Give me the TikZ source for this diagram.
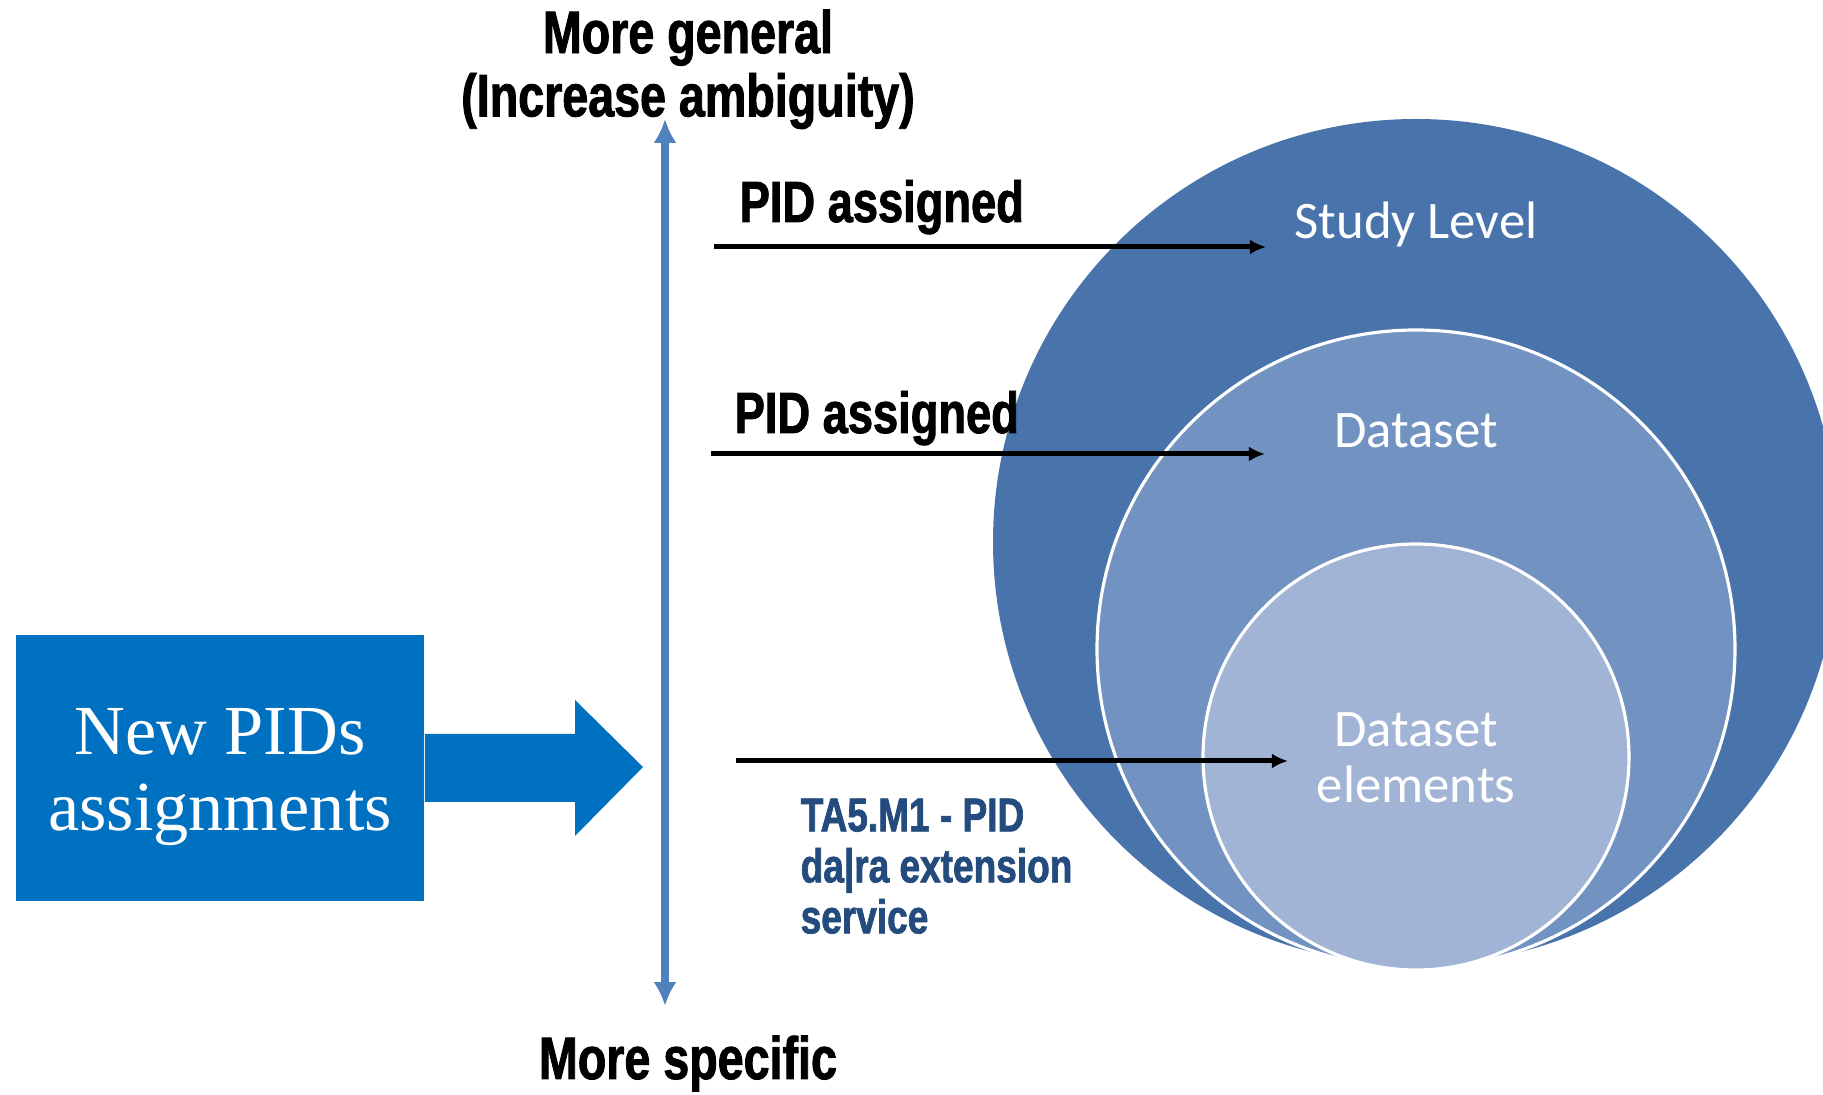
\documentclass[tikz,border=0pt]{standalone}
\usepackage{fontspec}
\setmainfont{Liberation Serif}
\newfontfamily\headfont{Liberation Sans Bold}[FakeStretch=0.78,FakeBold=1.5]
\newfontfamily\levelfont{Carlito}
\usetikzlibrary{arrows.meta}
\definecolor{boxblue}{HTML}{0070C0}
\definecolor{axisblue}{HTML}{4F81BD}
\definecolor{studyblue}{HTML}{4874AB}
\definecolor{setblue}{HTML}{7293C2}
\definecolor{elemblue}{HTML}{A2B4D5}
\definecolor{taskblue}{HTML}{234B7E}
\tikzset{
  heading/.style={font=\headfont\fontsize{17}{18}\selectfont, align=center, inner sep=0pt},
  pidtext/.style={font=\headfont\fontsize{16.5}{18}\selectfont, inner sep=0pt},
  tasktext/.style={font=\headfont\fontsize{13.5}{14.5}\selectfont, text=taskblue, align=left, inner sep=0pt},
  leveltext/.style={font=\levelfont\fontsize{15}{16}\selectfont, text=white, align=center, inner sep=0pt},
  pidarrow/.style={-{Latex[length=4.6pt,width=4.3pt]}, line width=1.42pt},
}
\begin{document}
\begin{tikzpicture}[x=0.01cm,y=-0.01cm]
\useasboundingbox (0,0) rectangle (1823,1095);
\clip (0,0) rectangle (1823,1095);
% nested levels
\fill[studyblue] (1416,542) circle (423);
\filldraw[fill=setblue,draw=white,line width=0.9pt] (1416,649) circle (319);
\filldraw[fill=elemblue,draw=white,line width=0.9pt] (1416,757) circle (213);
\node[leveltext] (study) at (1416,224) {Study Level};
\node[leveltext] (dataset) at (1416,431) {Dataset};
\node[leveltext] (elements) at (1416,758) {Dataset\\elements};
% axis
\coordinate (axtop) at (665,119);
\coordinate (axbottom) at (665,1006);
\draw[{Latex[length=6.8pt,width=6.6pt]}-{Latex[length=6.8pt,width=6.6pt]},axisblue,line width=2pt] (axbottom) -- (axtop);
\node[heading,anchor=north] (general) at (688,9) {More general\\(Increase ambiguity)};
\node[heading,anchor=base] (specific) at (688,1079) {More specific};
% assignments
\coordinate (pida) at (714,247);
\coordinate (pidaend) at (1266,247);
\coordinate (pidb) at (711,454);
\coordinate (pidbend) at (1265,454);
\coordinate (pidc) at (736,761);
\coordinate (pidcend) at (1288,761);
\draw[pidarrow] (pida) -- (pidaend);
\draw[pidarrow] (pidb) -- (pidbend);
\draw[pidarrow] (pidc) -- (pidcend);
\node[pidtext,anchor=base west] (pidlabela) at (739,222) {PID assigned};
\node[pidtext,anchor=base west] (pidlabelb) at (734,433) {PID assigned};
\node[tasktext,anchor=north west] (task) at (800,798) {TA5.M1 - PID\\da|ra extension\\service};
% new PIDs
\node[fill=boxblue,minimum width=4.08cm,minimum height=2.66cm] (newbox) at (220,768) {};
\node[text=white,align=center,font=\fontsize{20}{21.5}\selectfont] (newpids) at (220,777) {New PIDs\\assignments};
\fill[boxblue] (newbox.east |- 0,734) -- (575,734) -- (575,700) -- (643,767)
  -- (575,836) -- (575,802) -- (newbox.east |- 0,802) -- cycle;
\end{tikzpicture}
\end{document}
